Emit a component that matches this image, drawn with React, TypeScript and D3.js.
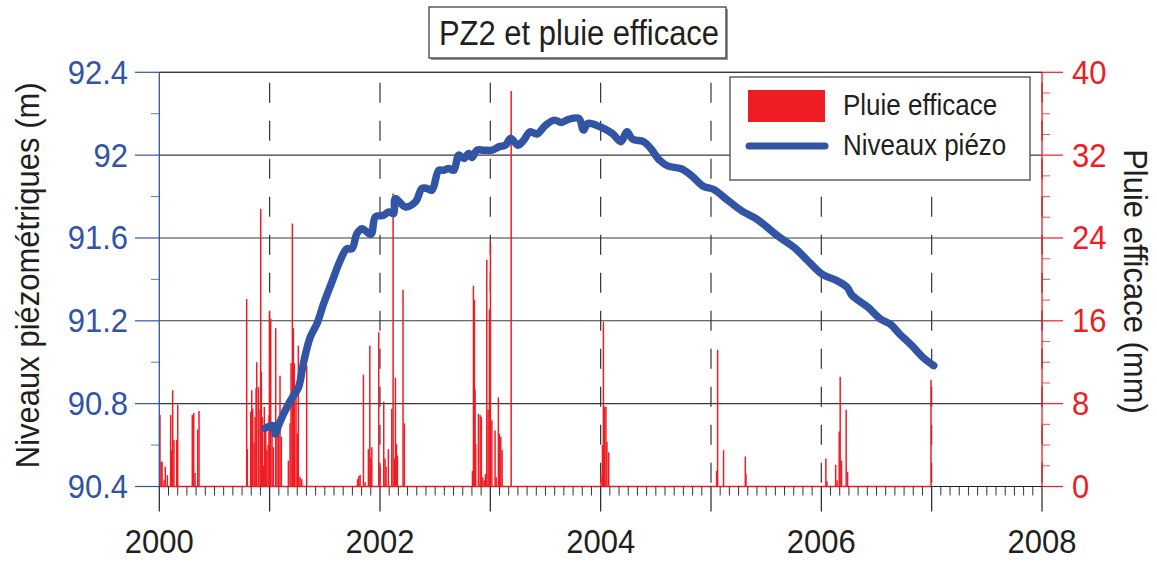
import React from "react";
import * as d3 from "d3";

// ---------- DATA ----------
const yearTicks = [2000, 2002, 2004, 2006, 2008];
const dashedYears = [2001, 2002, 2003, 2004, 2005, 2006, 2007, 2008];
const levelTicks = [90.4, 90.8, 91.2, 91.6, 92, 92.4];
const rainTicks = [0, 8, 16, 24, 32, 40];

// Niveaux piézo: [decimal year, level m]
const levelSeries: [number, number][] = [
  [2000.959, 90.681], [2001.035, 90.694], [2001.05, 90.653], [2001.08, 90.694],
  [2001.126, 90.75], [2001.171, 90.798], [2001.217, 90.839], [2001.262, 90.879],
  [2001.308, 91.0], [2001.368, 91.121], [2001.428, 91.185], [2001.489, 91.282],
  [2001.564, 91.387], [2001.64, 91.492], [2001.7, 91.548], [2001.746, 91.548],
  [2001.791, 91.621], [2001.837, 91.645], [2001.918, 91.618], [2001.958, 91.702],
  [2002.033, 91.71], [2002.079, 91.726], [2002.124, 91.718], [2002.139, 91.79],
  [2002.23, 91.75], [2002.321, 91.774], [2002.381, 91.839], [2002.427, 91.839],
  [2002.472, 91.831], [2002.533, 91.927], [2002.578, 91.927], [2002.623, 91.935],
  [2002.669, 91.927], [2002.714, 92.0], [2002.76, 91.984], [2002.805, 92.008],
  [2002.835, 91.989], [2002.88, 92.024], [2002.941, 92.024], [2003.017, 92.024],
  [2003.077, 92.04], [2003.138, 92.048], [2003.183, 92.081], [2003.252, 92.048],
  [2003.304, 92.073], [2003.36, 92.113], [2003.423, 92.102], [2003.502, 92.145],
  [2003.581, 92.169], [2003.644, 92.158], [2003.708, 92.173], [2003.803, 92.177],
  [2003.844, 92.121], [2003.883, 92.153], [2003.994, 92.137], [2004.105, 92.105],
  [2004.184, 92.065], [2004.238, 92.113], [2004.289, 92.077], [2004.39, 92.065],
  [2004.454, 92.032], [2004.533, 91.976], [2004.613, 91.947], [2004.724, 91.935],
  [2004.819, 91.903], [2004.93, 91.85], [2005.025, 91.834], [2005.152, 91.782],
  [2005.279, 91.731], [2005.422, 91.689], [2005.597, 91.613], [2005.756, 91.553],
  [2005.883, 91.487], [2006.01, 91.424], [2006.137, 91.395], [2006.232, 91.363],
  [2006.279, 91.323], [2006.422, 91.266], [2006.533, 91.21], [2006.629, 91.182],
  [2006.708, 91.137], [2006.819, 91.081], [2006.93, 91.019], [2007.019, 90.984],
];

// Pluie efficace: [decimal year, mm]
const rainSeries: [number, number][] = [
  [2000.006, 6.9], [2000.017, 2.4], [2000.025, 2.4], [2000.043, 0.6], [2000.054, 1.9],
  [2000.073, 1.1], [2000.103, 6.9], [2000.112, 3.5], [2000.121, 9.3], [2000.133, 4.5],
  [2000.158, 4.5], [2000.167, 7.9], [2000.299, 6.9], [2000.312, 7.1], [2000.324, 1.3],
  [2000.348, 5.5], [2000.36, 7.3],
  [2000.792, 18.1], [2000.798, 3.6], [2000.829, 7.2], [2000.838, 9.3], [2000.847, 7.5],
  [2000.859, 4.2], [2000.868, 6.7], [2000.877, 9.5], [2000.883, 12.0], [2000.898, 9.6],
  [2000.913, 7.4], [2000.919, 26.8], [2000.925, 11.1], [2000.934, 6.7], [2000.943, 2.0],
  [2000.952, 7.7], [2000.965, 5.7], [2000.974, 3.5], [2000.986, 4.0], [2000.995, 6.9],
  [2000.998, 16.9], [2001.01, 16.2], [2001.022, 5.1], [2001.034, 3.8], [2001.055, 15.3],
  [2001.067, 6.1], [2001.082, 6.7], [2001.094, 10.7], [2001.106, 4.8], [2001.17, 2.5],
  [2001.185, 6.1], [2001.194, 11.9], [2001.206, 25.4], [2001.215, 15.3], [2001.224, 11.9],
  [2001.239, 9.3], [2001.251, 5.1], [2001.26, 13.6], [2001.264, 1.0], [2001.276, 0.9],
  [2001.291, 0.7], [2001.336, 11.7],
  [2001.797, 0.7], [2001.808, 1.0], [2001.82, 1.1], [2001.85, 10.8], [2001.865, 0.4],
  [2001.895, 3.6], [2001.908, 13.6], [2001.917, 2.8], [2001.926, 3.8], [2001.989, 14.9],
  [2002.001, 1.9], [2002.034, 8.2], [2002.046, 2.7], [2002.055, 1.9], [2002.076, 3.6],
  [2002.107, 7.5], [2002.119, 28.3], [2002.131, 2.7], [2002.14, 10.5], [2002.149, 4.1],
  [2002.158, 3.0], [2002.209, 19.0], [2002.221, 6.1],
  [2002.838, 1.5], [2002.847, 19.4], [2002.856, 18.0], [2002.862, 9.4], [2002.868, 4.1],
  [2002.892, 7.0], [2002.908, 6.9], [2002.919, 6.7], [2002.932, 0.9], [2002.946, 0.6],
  [2002.956, 1.2], [2002.968, 21.9], [2002.98, 7.4], [2002.992, 17.1], [2003.001, 23.6],
  [2003.014, 6.4], [2003.043, 5.4], [2003.053, 0.9], [2003.073, 8.6], [2003.082, 5.1],
  [2003.095, 4.8], [2003.107, 3.5], [2003.189, 38.2],
  [2004.003, 1.1], [2004.016, 4.0], [2004.025, 15.9], [2004.035, 7.7], [2004.048, 7.7],
  [2004.057, 4.3], [2004.073, 3.3],
  [2005.051, 1.5], [2005.06, 13.2], [2005.114, 3.5], [2005.311, 2.9], [2005.317, 1.2],
  [2006.041, 2.7], [2006.051, 0.5], [2006.13, 2.1], [2006.143, 0.6], [2006.162, 5.3],
  [2006.171, 10.6], [2006.183, 2.5], [2006.225, 7.4], [2006.238, 1.4],
  [2006.994, 10.3],
];
const rainSpan = [2000.0, 2007.0];

const titleText = "PZ2 et pluie efficace";
const leftTitle = "Niveaux piézométriques (m)";
const rightTitle = "Pluie efficace (mm)";
const legendLabels = ["Pluie efficace", "Niveaux piézo"];

// ---------- STYLE ----------
const BLUE = "#3154a5";
const RED = "#ee1d25";
const DARK = "#231f20";
const FONT = "'Liberation Sans', Arial, Helvetica, sans-serif";
const SY = 1.1; // vertical stretch of lettering

function T(props: {
  x: number; y: number; rot?: number; sy?: number; size: number; fill: string;
  anchor?: string; children: React.ReactNode;
}) {
  const { x, y, rot = 0, sy = SY, size, fill, anchor = "start", children } = props;
  return (
    <text
      transform={`translate(${x},${y}) rotate(${rot}) scale(1,${sy})`}
      textAnchor={anchor}
      fontSize={size}
      fill={fill}
    >
      {children}
    </text>
  );
}

export default function App() {
  const W = 1157, H = 562;
  const x = d3.scaleLinear().domain([2000, 2008]).range([159.3, 1042]);
  const yL = d3.scaleLinear().domain([90.4, 92.4]).range([486.5, 72.3]);
  const yR = d3.scaleLinear().domain([0, 40]).range([486.5, 72.3]);

  const line = d3
    .line<[number, number]>()
    .x((d) => x(d[0]))
    .y((d) => yL(d[1]))
    .curve(d3.curveCatmullRom.alpha(0.5));

  const monthTicks = d3.range(0, 97).filter((i) => i % 12 !== 0).map((i) => 2000 + i / 12);
  const levelMinor = d3.range(0, 6).map((i) => 90.6 + i * 0.4).filter((v) => v < 92.4);
  const rainMinor = d3.range(0, 41, 2).filter((v) => v % 8 !== 0);

  const x0 = x(2000), x1 = x(2008);
  const yb = yL(90.4), yt = yL(92.4);

  return (
    <svg width={W} height={H} style={{ position: "absolute", left: 0, top: 0, background: "#fff" }} fontFamily={FONT}>
      {/* horizontal gridlines */}
      {levelTicks.slice(1).map((v) => (
        <line key={"g" + v} x1={x0} x2={x1} y1={yL(v)} y2={yL(v)} stroke="#3a3a3a" strokeWidth={1.1} />
      ))}
      {/* dashed year lines */}
      {dashedYears.map((yv) => (
        <line key={"d" + yv} x1={x(yv)} x2={x(yv)} y1={82.7} y2={yb} stroke="#333" strokeWidth={1.2} strokeDasharray="20,18" />
      ))}
      {/* x axis line */}
      <line x1={x0} x2={x1} y1={yb} y2={yb} stroke="#222" strokeWidth={1.2} />
      {/* rain bars */}
      {rainSeries.map(([t, v], i) => (
        <line key={"r" + i} x1={x(t)} x2={x(t)} y1={yR(0)} y2={yR(v)} stroke={RED} strokeWidth={1.5} />
      ))}
      <line x1={x(rainSpan[0])} x2={x(rainSpan[1])} y1={yR(0)} y2={yR(0)} stroke={RED} strokeWidth={1.6} />
      {/* level line */}
      <path d={line(levelSeries) || ""} fill="none" stroke={BLUE} strokeWidth={7.5} strokeLinejoin="round" strokeLinecap="round" />

      {/* left axis */}
      <line x1={x0} x2={x0} y1={yt} y2={yb} stroke={BLUE} strokeWidth={1.3} />
      {levelTicks.map((v) => (
        <g key={"lt" + v}>
          <line x1={135} x2={x0} y1={yL(v)} y2={yL(v)} stroke={BLUE} strokeWidth={1.2} />
          <T x={128} y={yL(v) + 11.5} anchor="end" size={31} fill={BLUE}>
            {d3.format("~g")(v)}
          </T>
        </g>
      ))}
      {levelMinor.map((v) => (
        <line key={"lm" + v} x1={151} x2={x0} y1={yL(v)} y2={yL(v)} stroke={BLUE} strokeOpacity={0.7} strokeWidth={1.1} />
      ))}
      <T x={39} y={yL(91.42)} rot={-90} anchor="middle" size={31} fill={DARK}>
        {leftTitle}
      </T>

      {/* right axis */}
      <line x1={x1} x2={x1} y1={yt} y2={yb} stroke={RED} strokeWidth={1.3} />
      {rainTicks.map((v) => (
        <g key={"rt" + v}>
          <line x1={x1} x2={1063} y1={yR(v)} y2={yR(v)} stroke={RED} strokeWidth={1.2} />
          <T x={1072} y={yR(v) + 11.5} anchor="start" size={31} fill={RED}>
            {v}
          </T>
        </g>
      ))}
      {rainMinor.map((v) => (
        <line key={"rm" + v} x1={x1} x2={1050} y1={yR(v)} y2={yR(v)} stroke={RED} strokeOpacity={0.7} strokeWidth={1.1} />
      ))}
      <T x={1124} y={yR(19.8)} rot={90} anchor="middle" size={31} fill={DARK}>
        {rightTitle}
      </T>

      {/* top border */}
      <line x1={x0} x2={x1} y1={yt} y2={yt} stroke="#3a3a3a" strokeWidth={1.2} />

      {/* bottom ticks */}
      {monthTicks.map((t) => (
        <line key={"mt" + t} x1={x(t)} x2={x(t)} y1={yb} y2={yb + 9} stroke="#333" strokeWidth={1} />
      ))}
      {d3.range(2000, 2009).map((yv) => (
        <line key={"yt" + yv} x1={x(yv)} x2={x(yv)} y1={yb} y2={yb + 25} stroke="#222" strokeWidth={1.2} />
      ))}
      {yearTicks.map((yv) => (
        <T key={"yl" + yv} x={x(yv)} y={553} anchor="middle" size={31} sy={1.06} fill={DARK}>
          {yv}
        </T>
      ))}

      {/* legend */}
      <rect x={730} y={77} width={300} height={103} fill="#fff" stroke="#555" strokeWidth={1.4} />
      <rect x={748} y={90} width={77} height={32} fill={RED} />
      <line x1={749} x2={825} y1={146} y2={146} stroke={BLUE} strokeWidth={7} strokeLinecap="round" />
      <T x={843} y={115} size={26} fill={DARK}>{legendLabels[0]}</T>
      <T x={843} y={155} size={26} fill={DARK}>{legendLabels[1]}</T>

      {/* title */}
      <rect x={431} y={9} width={297} height={51} fill="#999" />
      <rect x={429} y={7} width={297} height={51} fill="#fff" stroke="#333" strokeWidth={1.2} />
      <T x={579} y={45} anchor="middle" size={31} sy={1.15} fill={DARK}>{titleText}</T>
    </svg>
  );
}
